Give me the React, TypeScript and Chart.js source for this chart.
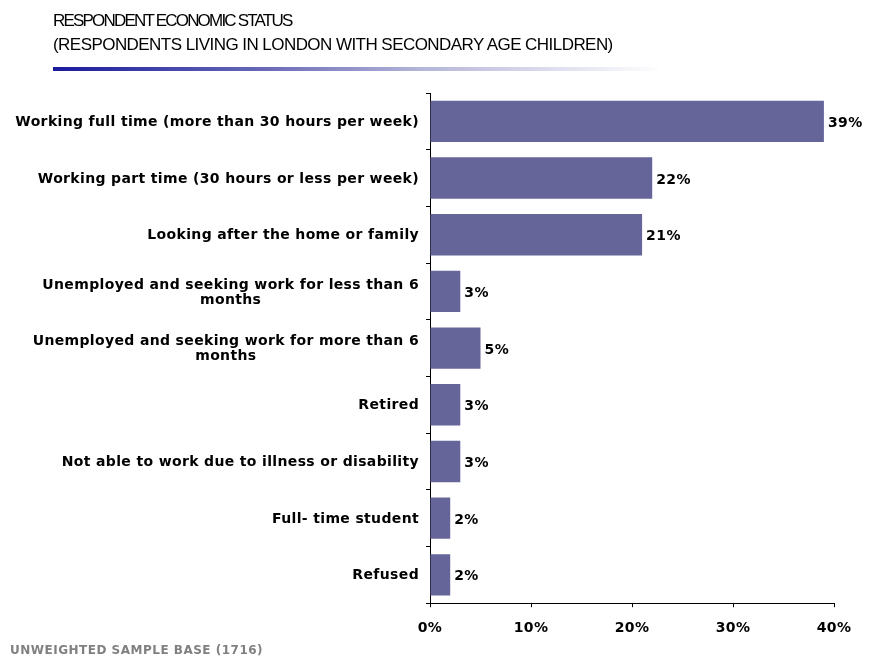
import React, { useEffect, useRef } from "react";
import { Chart, registerables } from "chart.js";

Chart.register(...registerables);

const titleLines = [
  "RESPONDENT ECONOMIC STATUS",
  "(RESPONDENTS LIVING IN LONDON WITH SECONDARY AGE CHILDREN)",
];
const footerText = "UNWEIGHTED SAMPLE BASE (1716)";

const categories: string[][] = [
  ["Working full time (more than 30 hours per week)"],
  ["Working part time (30 hours or less per week)"],
  ["Looking after the home or family"],
  ["Unemployed and seeking work for less than 6", "months"],
  ["Unemployed and seeking work for more than 6", "months"],
  ["Retired"],
  ["Not able to work due to illness or disability"],
  ["Full- time student"],
  ["Refused"],
];
const values = [39, 22, 21, 3, 5, 3, 3, 2, 2];
const xTicks = [0, 10, 20, 30, 40];

const FONT = "'DejaVu Sans', Verdana, sans-serif";

const overlayPlugin = {
  id: "overlay",
  beforeDraw(chart: any) {
    chart.ctx.letterSpacing = "0.4px";
  },
  afterDraw(chart: any) {
    const ctx = chart.ctx;
    const yScale = chart.scales.y;
    ctx.save();
    ctx.fillStyle = "#000";
    ctx.font = `bold 14px ${FONT}`;
    ctx.letterSpacing = "0.35px";
    ctx.textBaseline = "middle";
    const lh = 15;
    const rightX = yScale.right - 11;
    categories.forEach((lines, i) => {
      const cy = yScale.getPixelForValue(i) + 1;
      const n = lines.length;
      let maxW = 0;
      lines.forEach((l) => (maxW = Math.max(maxW, ctx.measureText(l).width)));
      lines.forEach((l, j) => {
        const y = cy - ((n - 1) * lh) / 2 + j * lh;
        if (n === 1) {
          ctx.textAlign = "right";
          ctx.fillText(l, rightX, y);
        } else {
          ctx.textAlign = "center";
          ctx.fillText(l, rightX - maxW / 2, y);
        }
      });
    });
    const meta = chart.getDatasetMeta(0);
    ctx.textAlign = "left";
    ctx.font = `bold 14px ${FONT}`;
    ctx.letterSpacing = "0.4px";
    meta.data.forEach((bar: any, i: number) => {
      ctx.fillText(values[i] + "%", bar.x + 4, bar.y + 2);
    });
    ctx.restore();
  },
};

export default function App() {
  const ref = useRef<HTMLCanvasElement>(null);
  useEffect(() => {
    if (!ref.current) return;
    const chart = new Chart(ref.current, {
      type: "bar",
      data: {
        labels: categories.map((c) => c.join(" ")),
        datasets: [
          {
            data: values,
            backgroundColor: "#65659a",
            borderWidth: 0,
            barPercentage: 0.73,
            categoryPercentage: 1,
          },
        ],
      },
      options: {
        indexAxis: "y",
        animation: false,
        responsive: false,
        maintainAspectRatio: false,
        layout: { padding: { left: 426, right: 36, top: 93, bottom: 10 } },
        plugins: {
          legend: { display: false },
          tooltip: { enabled: false },
        },
        scales: {
          x: {
            min: 0,
            max: 40,
            afterBuildTicks: (axis: any) => {
              axis.ticks = xTicks.map((v) => ({ value: v }));
            },
            ticks: {
              color: "#000",
              font: { family: FONT, size: 14, weight: "bold" },
              callback: (v: any) => v + "%",
              padding: 13,
            },
            grid: {
              drawOnChartArea: false,
              drawTicks: true,
              tickLength: 4,
              color: "#000",
            },
            border: { color: "#000", width: 1 },
          },
          y: {
            ticks: { display: false },
            grid: {
              drawOnChartArea: false,
              drawTicks: true,
              tickLength: 4,
              color: "#000",
              offset: true,
            },
            border: { color: "#000", width: 1 },
          },
        },
      },
      plugins: [overlayPlugin],
    });
    return () => chart.destroy();
  }, []);

  const titleSpacing = [-1.8, -0.55];

  return (
    <div style={{ position: "fixed", left: 0, top: 0, width: 870, height: 660, background: "#fff" }}>
      <canvas ref={ref} width={870} height={660} style={{ position: "absolute", left: 0, top: 0 }} />
      <div
        style={{
          position: "absolute",
          left: 53,
          top: 9,
          fontFamily: "'Liberation Sans Narrow', 'Liberation Sans', Arial, sans-serif",
          fontSize: 17,
          lineHeight: "24px",
          color: "#000",
          whiteSpace: "nowrap",
        }}
      >
        {titleLines.map((t, i) => (
          <div key={i} style={{ letterSpacing: titleSpacing[i] }}>
            {t}
          </div>
        ))}
      </div>
      <div
        style={{
          position: "absolute",
          left: 53,
          top: 67,
          width: 610,
          height: 4,
          background: "linear-gradient(to right, #1a1a9e 0%, #6a6ab8 35%, #b4b4d8 60%, #ffffff 100%)",
        }}
      />
      <div
        style={{
          position: "absolute",
          left: 10,
          top: 643,
          fontFamily: FONT,
          fontWeight: "bold",
          fontSize: 12,
          letterSpacing: 0.5,
          color: "#808080",
          whiteSpace: "nowrap",
        }}
      >
        {footerText}
      </div>
    </div>
  );
}
